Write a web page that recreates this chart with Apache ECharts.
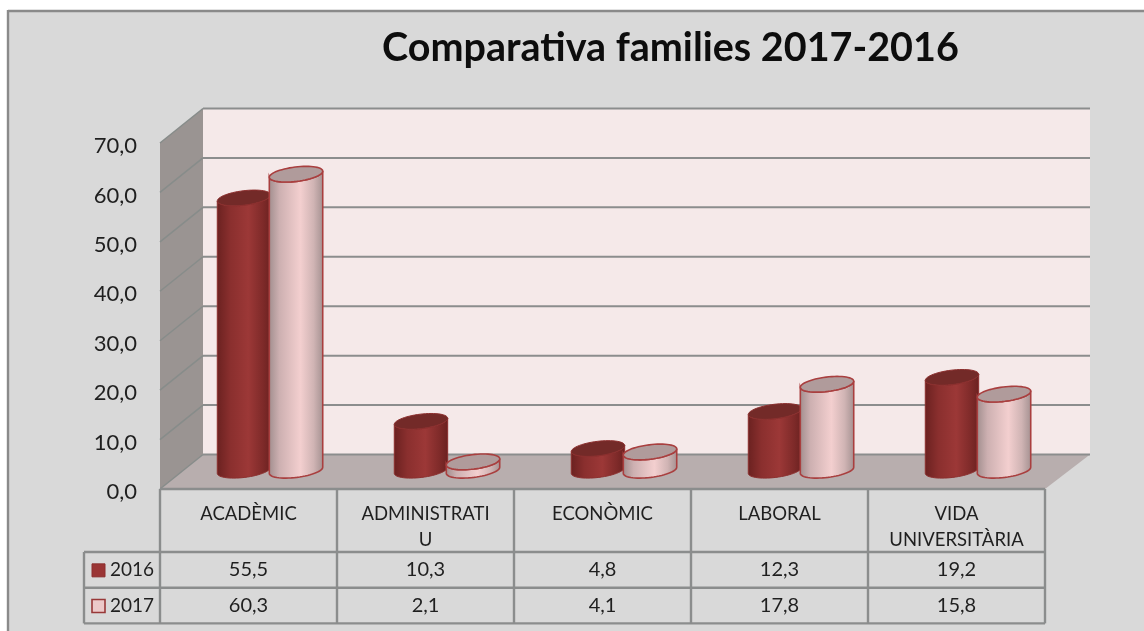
<!DOCTYPE html>
<html>
<head>
<meta charset="utf-8">
<style>
  html, body { margin: 0; padding: 0; background: #fff; }
  #chart { width: 1144px; height: 631px; }
</style>
<script src="https://cdn.jsdelivr.net/npm/echarts@6/dist/echarts.min.js"></script>
</head>
<body>
<div id="chart"></div>
<script>
const categories = ["ACADÈMIC", "ADMINISTRATI\nU", "ECONÒMIC", "LABORAL", "VIDA\nUNIVERSITÀRIA"];
const years = ["2016", "2017"];
const values2016 = [55.5, 10.3, 4.8, 12.3, 19.2];
const values2017 = [60.3, 2.1, 4.1, 17.8, 15.8];
const yTicks = [0, 10, 20, 30, 40, 50, 60, 70];

const TEXT = "#1f1f1f";
const LINE = "#8b8d8d";
const FONT = "Lato";
// box depth of the fake 3D plot
const DEPTH_X = 43;
const DEPTH_Y = -34.5;
const TILT = -7 * Math.PI / 180;

const fmt = (v) => v.toFixed(1).replace(".", ",");

const ellipsePoint = (cx, cy, rx, ry, t) => [
  cx + rx * Math.cos(t) * Math.cos(TILT) - ry * Math.sin(t) * Math.sin(TILT),
  cy + rx * Math.cos(t) * Math.sin(TILT) + ry * Math.sin(t) * Math.cos(TILT),
];

const lowerArc = (cx, cy, rx, ry) => {
  const pts = [];
  for (let i = 0; i <= 30; i++) {
    pts.push(ellipsePoint(cx, cy, rx, ry, Math.PI * i / 30));
  }
  return pts;
};

const fullEllipse = (cx, cy, rx, ry) => {
  const pts = [];
  for (let i = 0; i < 60; i++) {
    pts.push(ellipsePoint(cx, cy, rx, ry, Math.PI * 2 * i / 60));
  }
  return pts;
};

const hGradient = (stops) => ({
  type: "linear", x: 0, y: 0, x2: 1, y2: 0,
  colorStops: stops.map((s) => ({offset: s[0], color: s[1]})),
});

const cylinderStyles = [
  {
    body: hGradient([[0, "#6a2120"], [0.25, "#8a2f2e"], [0.58, "#9c3837"], [0.85, "#7e2a29"], [1, "#6a2120"]]),
    top: "#732a28",
    stroke: "#8c2f2e",
    width: 1,
    side: -1,
  },
  {
    body: hGradient([[0, "#a08d8d"], [0.2, "#cdb0b1"], [0.58, "#f3cfcf"], [0.82, "#d0b4b4"], [1, "#a39090"]]),
    top: "#b09b9b",
    stroke: "#a93f3f",
    width: 1.6,
    side: 1,
  },
];

const renderCylinder = (styleIndex) => (params, api) => {
  const s = cylinderStyles[styleIndex];
  const base = api.coord([api.value(0), 0]);
  const head = api.coord([api.value(0), api.value(1)]);
  const catWidth = api.size([1, 0])[0];
  const cx = base[0] + DEPTH_X / 2 + s.side * catWidth * 0.147;
  const y0 = base[1] + DEPTH_Y / 2 - 1.5;
  const y1 = head[1] + DEPTH_Y / 2 + 0.5;
  const rx = catWidth * 0.152;
  const ry = 7.2;
  const bottom = lowerArc(cx, y0, rx, ry);
  const upper = lowerArc(cx, y1, rx, ry).reverse();
  return {
    type: "group",
    children: [
      {
        type: "polygon",
        shape: {points: bottom.concat(upper)},
        style: {fill: s.body, stroke: s.stroke, lineWidth: s.width},
      },
      {
        type: "polygon",
        shape: {points: fullEllipse(cx, y1, rx, ry)},
        style: {fill: s.top, stroke: s.stroke, lineWidth: s.width},
      },
    ],
  };
};

const renderWalls = (params, api) => {
  const c = params.coordSys;
  const x0 = c.x, x1 = c.x + c.width, yt = c.y, yb = c.y + c.height;
  return {
    type: "group",
    children: [
      {
        type: "rect",
        shape: {x: x0 + DEPTH_X, y: yt + DEPTH_Y, width: c.width + 2, height: c.height},
        style: {fill: "#f5e9e9"},
      },
      {
        type: "polygon",
        shape: {points: [[x0, yt], [x0 + DEPTH_X, yt + DEPTH_Y], [x0 + DEPTH_X, yb + DEPTH_Y], [x0, yb]]},
        style: {fill: "#9a9492"},
      },
      {
        type: "polygon",
        shape: {points: [[x0, yb], [x0 + DEPTH_X, yb + DEPTH_Y], [x1 + DEPTH_X + 2, yb + DEPTH_Y], [x1, yb]]},
        style: {fill: "#b8aeae"},
      },
    ],
  };
};

const renderTick = (params, api) => {
  const c = params.coordSys;
  const y = api.coord([0, api.value(0)])[1];
  const x0 = c.x;
  const x1 = c.x + c.width + DEPTH_X + 2;
  const backY = y + DEPTH_Y;
  return {
    type: "group",
    children: [
      {
        type: "line",
        shape: {x1: x0, y1: y, x2: x0 + DEPTH_X, y2: backY},
        style: {stroke: "#878c8a", lineWidth: 1.5},
      },
      {
        type: "line",
        shape: {x1: x0 + DEPTH_X, y1: backY, x2: x1, y2: backY},
        style: {stroke: LINE, lineWidth: 2},
      },
    ],
  };
};

// data table under the plot: one element per category, plus the row headers
const ROW_TOP = 63;
const ROW_H = 35.7;
const HEADER_W = 76;

const renderTableColumn = (params, api) => {
  const c = params.coordSys;
  const i = api.value(0);
  const w = c.width / categories.length;
  const x = c.x + i * w;
  const yb = c.y + c.height;
  const children = [
    {type: "line", shape: {x1: x + w, y1: yb, x2: x + w, y2: yb + ROW_TOP + 2 * ROW_H}, style: {stroke: LINE, lineWidth: 2.4}},
  ];
  [values2016, values2017].forEach((vals, r) => {
    children.push({
      type: "text",
      style: {
        text: fmt(vals[i]),
        x: x + w / 2,
        y: yb + ROW_TOP + r * ROW_H + ROW_H / 2,
        align: "center",
        verticalAlign: "middle",
        fill: TEXT,
        font: "20px " + FONT,
      },
    });
  });
  return {type: "group", children};
};

const renderTableFrame = (params) => {
  const c = params.coordSys;
  const yb = c.y + c.height;
  const x0 = c.x;
  const xl = x0 - HEADER_W;
  const x1 = x0 + c.width;
  const lines = [
    [x0, yb, x1, yb],
    [x0, yb, x0, yb + ROW_TOP + 2 * ROW_H],
    [xl, yb + ROW_TOP, xl, yb + ROW_TOP + 2 * ROW_H],
    [xl, yb + ROW_TOP, x1, yb + ROW_TOP],
    [xl, yb + ROW_TOP + ROW_H, x1, yb + ROW_TOP + ROW_H],
    [xl, yb + ROW_TOP + 2 * ROW_H, x1, yb + ROW_TOP + 2 * ROW_H],
  ];
  const children = lines.map((l) => ({
    type: "line",
    shape: {x1: l[0], y1: l[1], x2: l[2], y2: l[3]},
    style: {stroke: LINE, lineWidth: 2.4},
  }));
  years.forEach((year, r) => {
    const cy = yb + ROW_TOP + r * ROW_H + ROW_H / 2;
    children.push({
      type: "rect",
      shape: {x: xl + 8, y: cy - 6, width: 13, height: 13},
      style: r === 0 ? {fill: "#9a3535", stroke: "#8c2f2e", lineWidth: 1} : {fill: "#ecc9c9", stroke: "#983838", lineWidth: 1.6},
    });
    children.push({
      type: "text",
      style: {text: year, x: xl + 26, y: cy, align: "left", verticalAlign: "middle", fill: TEXT, font: "19px " + FONT},
    });
  });
  return {type: "group", children};
};

const chart = echarts.init(document.getElementById("chart"), null, {renderer: "canvas"});
chart.setOption({
  animation: false,
  backgroundColor: "#d9d9d9",
  title: {
    text: "Comparativa families 2017-2016",
    left: 377,
    top: 23,
    textStyle: {fontFamily: FONT, fontSize: 39.5, fontWeight: "bold", color: "#0d0d0d"},
  },
  grid: {left: 160, right: 99, top: 143, height: 346, containLabel: false},
  xAxis: {
    type: "category",
    data: categories,
    axisLine: {show: false},
    axisTick: {show: false},
    axisLabel: {interval: 0, margin: 12, fontFamily: FONT, fontSize: 18.5, lineHeight: 26, color: TEXT},
  },
  yAxis: {
    type: "value",
    min: 0,
    max: 70,
    interval: 10,
    axisLine: {show: false},
    axisTick: {show: false},
    splitLine: {show: false},
    axisLabel: {
      margin: 23,
      formatter: (v) => "{t|" + fmt(v) + "}",
      rich: {t: {fontFamily: FONT, fontSize: 22, color: TEXT, padding: [6, 0, 0, 0]}},
    },
  },
  graphic: [
    {type: "rect", z: -1, shape: {x: 0, y: 0, width: 1144, height: 10}, style: {fill: "#fff"}},
    {type: "rect", z: -1, shape: {x: 0, y: 0, width: 7, height: 631}, style: {fill: "#fff"}},
    {type: "line", z: -1, shape: {x1: 8, y1: 11, x2: 1144, y2: 11}, style: {stroke: "#8a8a8a", lineWidth: 2.4}},
    {type: "line", z: -1, shape: {x1: 8, y1: 10, x2: 8, y2: 631}, style: {stroke: "#8a8a8a", lineWidth: 2.4}},
  ],
  series: [
    {type: "custom", name: "walls", z: 1, silent: true, renderItem: renderWalls, data: [0], encode: {x: 0}},
    {type: "custom", name: "ticks", z: 2, silent: true, renderItem: renderTick, data: yTicks.map((t) => [t]), encode: {y: 0}},
    {type: "custom", name: "table", z: 2, silent: true, renderItem: renderTableFrame, data: [0], encode: {x: 0}},
    {type: "custom", name: "tableColumns", z: 2, silent: true, renderItem: renderTableColumn, data: categories.map((c, i) => [i]), encode: {x: 0}},
    {type: "custom", name: "2016", z: 3, renderItem: renderCylinder(0), data: values2016.map((v, i) => [i, v]), encode: {x: 0, y: 1}},
    {type: "custom", name: "2017", z: 4, renderItem: renderCylinder(1), data: values2017.map((v, i) => [i, v]), encode: {x: 0, y: 1}},
  ],
});
</script>
</body>
</html>
